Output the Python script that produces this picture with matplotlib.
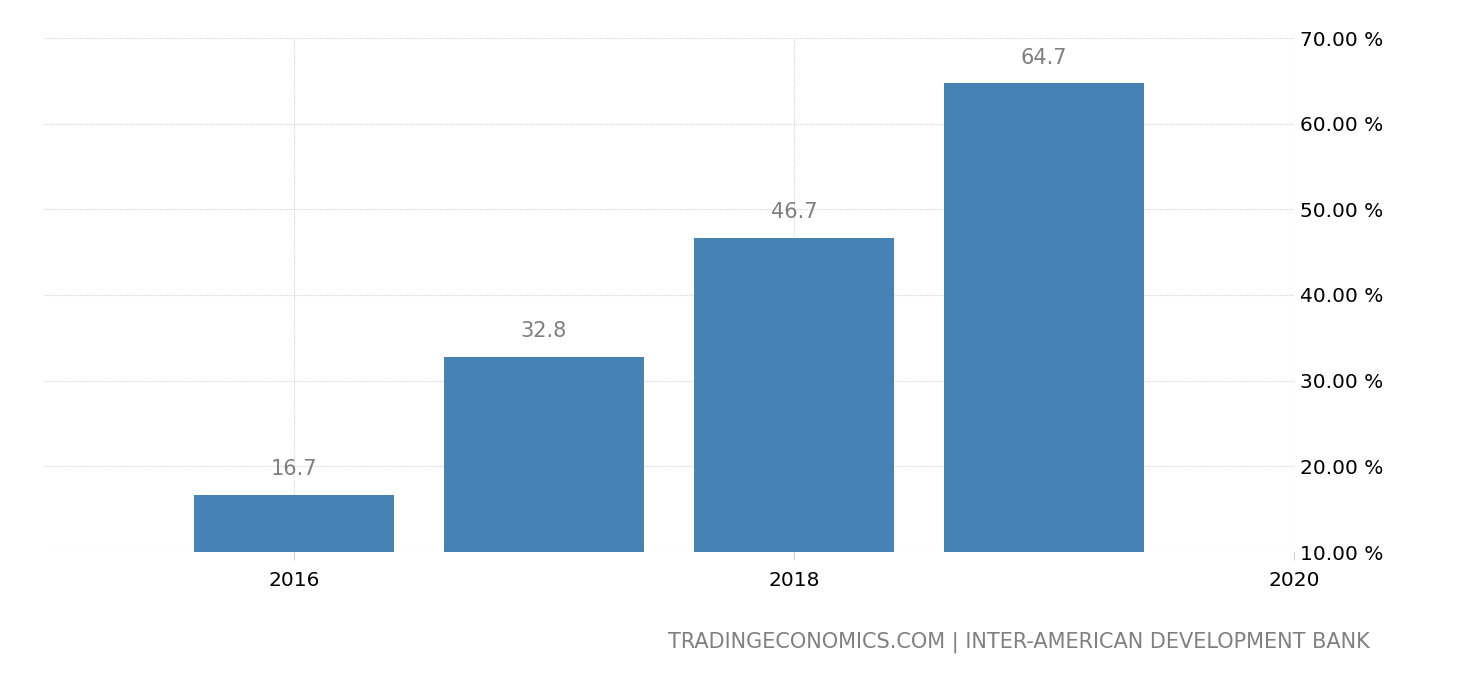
import matplotlib
matplotlib.use('Agg')
from matplotlib import pyplot as plt

# Data
years = [2016, 2017, 2018, 2019]
values = [16.7, 32.8, 46.7, 64.7]
xticks = [2016, 2018, 2020]
yticks = [10, 20, 30, 40, 50, 60, 70]

fig = plt.figure(figsize=(14.6, 6.8), dpi=100)
ax = fig.add_axes([44/1460, 1-552/680, 1250/1460, 514/680])

ax.bar(years, values, width=0.8, color='#4682b4', zorder=2)
for x, v in zip(years, values):
    ax.text(x, v + 1.8, f'{v:.1f}', ha='center', va='bottom',
            fontsize=15, color='#7f7f7f')

ax.set_xlim(2015, 2020)
ax.set_ylim(10, 70)
ax.set_xticks(xticks)
ax.set_xticklabels([str(t) for t in xticks])
ax.set_yticks(yticks)
ax.set_yticklabels([f'{t:.2f} %' for t in yticks])
ax.yaxis.tick_right()

ax.grid(True, color='#d4d4d4', linestyle=(0, (1, 1)), linewidth=0.8, zorder=0)
for s in ax.spines.values():
    s.set_visible(False)
ax.tick_params(axis='y', length=0, pad=4, labelsize=14.5)
ax.tick_params(axis='x', length=6, color='#cccccc', pad=8, labelsize=14.5)

fig.text(1370/1460, 1-642/680, 'TRADINGECONOMICS.COM | INTER-AMERICAN DEVELOPMENT BANK',
         ha='right', va='center', fontsize=15, color='#808080')

plt.savefig('out.png', dpi=100)
